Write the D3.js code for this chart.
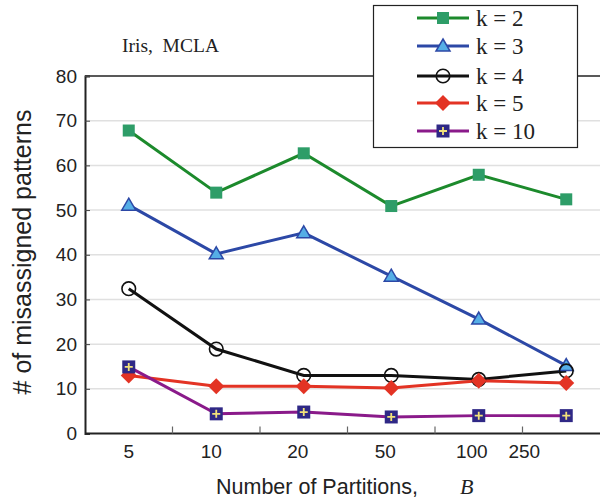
<!DOCTYPE html>
<html><head><meta charset="utf-8">
<script src="https://cdn.jsdelivr.net/npm/d3@7"></script>
<style>body{margin:0;background:#fff}svg{display:block}</style>
</head><body>
<svg id="c" width="600" height="500"></svg>
<script>
const categories = ["5","10","20","50","100","250"];
const seriesNames = ["k = 2","k = 3","k = 4","k = 5","k = 10"];
const k2 = [67.8, 53.9, 62.7, 50.9, 57.9, 52.4];
const k3 = [51.1, 40.2, 44.9, 35.2, 25.6, 15.2];
const k4 = [32.4, 18.9, 13.0, 13.0, 12.1, 14.0];
const k5 = [13.0, 10.6, 10.6, 10.2, 11.8, 11.3];
const k10 = [14.9, 4.4, 4.8, 3.7, 4.0, 4.0];
const yTicks = [0,10,20,30,40,50,60,70,80];

const styles = [
  {line:"#1c8a2c", fill:"#2e9d68", stroke:"#2e9d68", sym:"square"},
  {line:"#2c48a6", fill:"#55aee6", stroke:"#2c48a6", sym:"triangle"},
  {line:"#111111", fill:"#ffffff", stroke:"#111111", sym:"circle"},
  {line:"#e33324", fill:"#e33324", stroke:"#e33324", sym:"diamond"},
  {line:"#8a1a8a", fill:"#2f2886", stroke:"#2f2886", sym:"plus"}
];
const series = [k2,k3,k4,k5,k10];

const svg = d3.select("#c");
const L = 85, R = 610, T = 76, B = 433.5;
const x = d3.scaleBand().domain(categories).range([L, R]);
const cx = d => x(d) + x.bandwidth()/2;
const y = d3.scaleLinear().domain([0,80]).range([B, T]);

// gridlines
svg.append("g").selectAll("line").data(yTicks.filter(t=>t>0&&t<80)).join("line")
  .attr("x1", L).attr("x2", 600).attr("y1", d=>y(d)).attr("y2", d=>y(d))
  .attr("stroke", "#e0e0e0").attr("stroke-width", 1.5);
// top border
svg.append("line").attr("x1", L).attr("x2", 600).attr("y1", y(80)).attr("y2", y(80))
  .attr("stroke", "#222").attr("stroke-width", 1.5);

// y axis
const yAxis = svg.append("g").attr("transform", `translate(${L},0)`)
  .call(d3.axisLeft(y).tickValues(yTicks).tickSize(-5).tickPadding(8));
yAxis.select(".domain").attr("stroke","#222").attr("stroke-width",2);
yAxis.selectAll(".tick line").attr("stroke","#444");
yAxis.selectAll("text").attr("font-family","Liberation Sans, Arial, sans-serif").attr("font-size",19).attr("fill","#222");

// x axis
const xAxis = svg.append("g").attr("transform", `translate(0,${B})`)
  .call(d3.axisBottom(x).tickSize(0).tickPadding(11));
xAxis.select(".domain").attr("stroke","#222").attr("stroke-width",2).attr("d", `M${L},0H600`);
const labelShift = {"5":0,"10":-5,"20":-6,"50":-6,"100":-7,"250":-42};
xAxis.selectAll("text").attr("font-family","Liberation Sans, Arial, sans-serif").attr("font-size",19).attr("fill","#222")
  .attr("dy","0.71em").attr("dx", d=>labelShift[d]);
// inner ticks between categories
svg.append("g").selectAll("line").data(categories.slice(1)).join("line")
  .attr("x1", d=>x(d)).attr("x2", d=>x(d)).attr("y1", B).attr("y2", B-7)
  .attr("stroke","#666").attr("stroke-width",1.2);

// lines
const lineGen = d3.line().x((d,i)=>cx(categories[i])).y(d=>y(d));
series.forEach((s,si)=>{
  svg.append("path").datum(s).attr("d", lineGen).attr("fill","none")
    .attr("stroke", styles[si].line).attr("stroke-width", 3);
});

function marker(g, sym, st, px, py){
  if(sym==="square"){
    g.append("rect").attr("x",px-6).attr("y",py-6).attr("width",12).attr("height",12).attr("fill",st.fill);
  } else if(sym==="triangle"){
    g.append("path").attr("d",`M${px},${py-7}L${px+7},${py+5}L${px-7},${py+5}Z`).attr("fill",st.fill).attr("stroke",st.stroke).attr("stroke-width",1.5);
  } else if(sym==="circle"){
    g.append("circle").attr("cx",px).attr("cy",py).attr("r",6.8).attr("fill","none").attr("stroke",st.stroke).attr("stroke-width",1.6);
  } else if(sym==="diamond"){
    g.append("path").attr("d",`M${px},${py-8}L${px+8},${py}L${px},${py+8}L${px-8},${py}Z`).attr("fill",st.fill);
  } else if(sym==="plus"){
    g.append("rect").attr("x",px-6.5).attr("y",py-6.5).attr("width",13).attr("height",13).attr("fill",st.fill);
    g.append("path").attr("d",`M${px-4},${py}H${px+4}M${px},${py-4}V${py+4}`).attr("stroke","#f2e27a").attr("stroke-width",1.8);
  }
}
series.forEach((s,si)=>{
  const g = svg.append("g");
  s.forEach((v,i)=>marker(g, styles[si].sym, styles[si], cx(categories[i]), y(v)));
});

// title
svg.append("text").attr("x",122).attr("y",52).attr("font-family","Liberation Serif, Times New Roman, serif")
  .attr("font-size",19.5).attr("fill","#222").style("white-space","pre").text("Iris,  MCLA");

// axis titles
svg.append("text").attr("transform","translate(31,252) rotate(-90)").attr("text-anchor","middle")
  .attr("font-family","Liberation Sans, Arial, sans-serif").attr("font-size",25).attr("fill","#222")
  .text("# of misassigned patterns");
const xt = svg.append("text").attr("x",216).attr("y",494)
  .attr("font-family","Liberation Sans, Arial, sans-serif").attr("font-size",21.5).attr("fill","#222").style("white-space","pre");
xt.append("tspan").text("Number of Partitions,");
xt.append("tspan").attr("x",460).attr("font-family","Liberation Serif, Times New Roman, serif").attr("font-style","italic").attr("font-size",22).text("B");

// legend
const lg = svg.append("g");
lg.append("rect").attr("x",373.5).attr("y",5.5).attr("width",204).attr("height",142)
  .attr("fill","#fff").attr("stroke","#222").attr("stroke-width",1.2);
const legY = [18, 46, 76, 103, 131];
seriesNames.forEach((n,i)=>{
  const yy = legY[i];
  lg.append("line").attr("x1",417).attr("x2",469).attr("y1",yy).attr("y2",yy)
    .attr("stroke",styles[i].line).attr("stroke-width",3);
  marker(lg, styles[i].sym, styles[i], 443, yy);
  lg.append("text").attr("x",476).attr("y",yy+8).attr("font-family","Liberation Serif, Times New Roman, serif")
    .attr("font-size",23).attr("fill","#222").text(n);
});
</script>
</body></html>
